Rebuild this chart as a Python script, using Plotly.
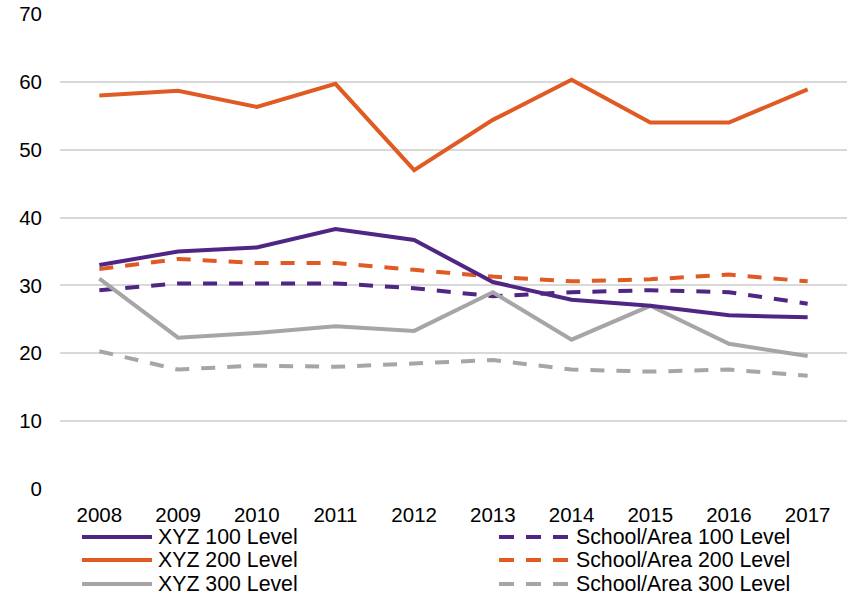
import plotly.graph_objects as go

years = ["2008", "2009", "2010", "2011", "2012", "2013", "2014", "2015", "2016", "2017"]
xyz_100 = [33.0, 35.0, 35.6, 38.3, 36.7, 30.5, 27.9, 27.0, 25.6, 25.3]
xyz_200 = [58.0, 58.7, 56.3, 59.7, 47.0, 54.4, 60.3, 54.0, 54.0, 58.9]
xyz_300 = [31.0, 22.3, 23.0, 24.0, 23.3, 29.0, 22.0, 27.0, 21.4, 19.6]
school_100 = [29.3, 30.3, 30.3, 30.3, 29.6, 28.4, 29.0, 29.3, 29.0, 27.3]
school_200 = [32.4, 33.9, 33.3, 33.3, 32.3, 31.3, 30.6, 30.9, 31.6, 30.6]
school_300 = [20.3, 17.6, 18.2, 18.0, 18.5, 19.0, 17.6, 17.3, 17.6, 16.7]
y_ticks = [0, 10, 20, 30, 40, 50, 60, 70]

PURPLE = "#4F2683"
ORANGE = "#E05A23"
GRAY = "#A6A6A6"
FONT = "Liberation Sans, Arial, sans-serif"
DASH = "14px,12px"
LW = 4

series = [
    ("XYZ 100 Level", xyz_100, PURPLE, "solid"),
    ("XYZ 200 Level", xyz_200, ORANGE, "solid"),
    ("XYZ 300 Level", xyz_300, GRAY, "solid"),
    ("School/Area 100 Level", school_100, PURPLE, DASH),
    ("School/Area 200 Level", school_200, ORANGE, DASH),
    ("School/Area 300 Level", school_300, GRAY, DASH),
]

order = [5, 4, 3, 2, 1, 0]
fig = go.Figure()
for i in order:
    name, vals, col, dash = series[i]
    fig.add_trace(go.Scatter(x=years, y=vals, mode="lines", name=name,
                             line=dict(color=col, width=LW, dash=dash),
                             showlegend=False))

W, H = 849, 596
L, R, T, B = 60, 2, 14, 107
pw, ph = W - L - R, H - T - B

def px(x):
    return (x - L) / pw

def py(y):
    return (H - B - y) / ph

rows = [537, 560, 584]
shapes = []
annotations = []
cols = [(82, 152, 156), (499, 569, 574)]
for idx, (name, vals, col, dash) in enumerate(series):
    c = 0 if idx < 3 else 1
    r = idx % 3
    x0, x1, xt = cols[c]
    yy = rows[r]
    shapes.append(dict(type="line", xref="paper", yref="paper",
                       x0=px(x0), x1=px(x1), y0=py(yy), y1=py(yy),
                       line=dict(color=col, width=LW,
                                 dash="solid" if dash == "solid" else "15px,12px")))
    annotations.append(dict(xref="paper", yref="paper", x=px(xt), y=py(yy),
                            xanchor="left", yanchor="middle", text=name,
                            showarrow=False,
                            font=dict(family=FONT, size=21.3, color="#000000")))

fig.update_layout(
    width=W, height=H,
    margin=dict(l=L, r=R, t=T, b=B, pad=0),
    paper_bgcolor="white", plot_bgcolor="white",
    font=dict(family=FONT, size=20.5, color="#000000"),
    shapes=shapes, annotations=annotations,
    showlegend=False,
)
fig.update_xaxes(type="category", range=[-0.5, 9.5], showgrid=False,
                 showline=False, zeroline=False, ticks="", ticklabelstandoff=11,
                 tickfont=dict(family=FONT, size=20.5, color="#000000"))
fig.update_yaxes(range=[0, 70], tickvals=y_ticks, showgrid=True,
                 gridcolor="#D9D9D9", gridwidth=2, zeroline=False,
                 showline=False, ticks="", ticklabelstandoff=17,
                 tickfont=dict(family=FONT, size=20.5, color="#000000"))

fig.write_html("out.html", config={"displayModeBar": False},
               post_script="document.body.style.margin='0';document.body.style.overflow='hidden';")
